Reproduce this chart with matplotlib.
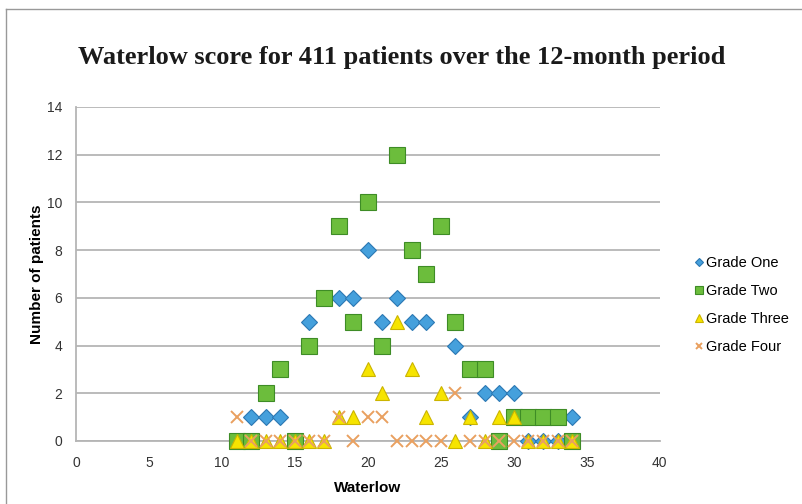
import matplotlib
matplotlib.use("Agg")
import matplotlib.pyplot as plt
from matplotlib.lines import Line2D

# Waterlow score counts per pressure ulcer grade
g1_x = [12, 13, 14, 16, 18, 19, 20, 21, 22, 23, 24, 26, 27, 28, 29, 30, 31, 32, 33, 34]
g1_y = [1, 1, 1, 5, 6, 6, 8, 5, 6, 5, 5, 4, 1, 2, 2, 2, 0, 0, 0, 1]

g2_x = [11, 12, 13, 14, 15, 16, 17, 18, 19, 20, 21, 22, 23, 24, 25, 26, 27, 28, 29, 30, 31, 32, 33, 34]
g2_y = [0, 0, 2, 3, 0, 4, 6, 9, 5, 10, 4, 12, 8, 7, 9, 5, 3, 3, 0, 1, 1, 1, 1, 0]

g3_x = [11, 12, 13, 14, 15, 16, 17, 18, 19, 20, 21, 22, 23, 24, 25, 26, 27, 28, 29, 30, 31, 32, 33, 34]
g3_y = [0, 0, 0, 0, 0, 0, 0, 1, 1, 3, 2, 5, 3, 1, 2, 0, 1, 0, 1, 1, 0, 0, 0, 0]

g4_x = [11, 12, 13, 14, 15, 16, 17, 18, 19, 20, 21, 22, 23, 24, 25, 26, 27, 28, 29, 30, 31, 32, 33, 34]
g4_y = [1, 0, 0, 0, 0, 0, 0, 1, 0, 1, 1, 0, 0, 0, 0, 2, 0, 0, 0, 0, 0, 0, 0, 0]

labels = ["Grade One", "Grade Two", "Grade Three", "Grade Four"]
x_ticks = [0, 5, 10, 15, 20, 25, 30, 35, 40]
y_ticks = [0, 2, 4, 6, 8, 10, 12, 14]

plt.rcParams["font.family"] = ["Liberation Sans", "DejaVu Sans"]

fig = plt.figure(figsize=(8.03, 5.04), dpi=100)
ax = fig.add_axes([0.0946, 0.125, 0.727, 0.663])

ax.plot(g1_x, g1_y, "D", ms=8, mfc="#45a0dc", mec="#2b78b3", mew=0.8,
        clip_on=False, label=labels[0], zorder=3)
ax.plot(g2_x, g2_y, "s", ms=11, mfc="#6cbd3c", mec="#3e8c26", mew=0.8,
        clip_on=False, label=labels[1], zorder=4)
ax.plot(g3_x, g3_y, "^", ms=10, mfc="#f6e400", mec="#cbb400", mew=0.8,
        clip_on=False, label=labels[2], zorder=5)
ax.plot(g4_x, g4_y, "x", ms=9, mec="#e9a060", mew=1.4,
        clip_on=False, label=labels[3], zorder=6)

ax.set_xlim(0, 40)
ax.set_ylim(0, 14)
ax.set_xticks(x_ticks)
ax.set_yticks(y_ticks)
ax.tick_params(axis="x", length=0, labelsize=10, labelcolor="#333333", pad=11)
ax.tick_params(axis="y", length=0, labelsize=10, labelcolor="#333333", pad=10)
ax.grid(axis="y", color="#b5b5b5", lw=1.3)
ax.set_axisbelow(True)
for s in ["top", "right"]:
    ax.spines[s].set_visible(False)
for s in ["left", "bottom"]:
    ax.spines[s].set_color("#b5b5b5")
    ax.spines[s].set_linewidth(1.3)

ax.set_xlabel("Waterlow", fontsize=11, fontweight="bold", labelpad=8)
ax.set_ylabel("Number of patients", fontsize=11, fontweight="bold", labelpad=2)

leg = ax.legend(loc="upper left", bbox_to_anchor=(1.05, 0.57), frameon=False,
                fontsize=10.5, handlelength=0.6, handletextpad=0.15,
                labelspacing=0.95, borderaxespad=0, markerscale=0.55)

fig.text(0.5, 0.873, "Waterlow score for 411 patients over the 12-month period",
         ha="center", fontsize=19, fontweight="bold", family="Liberation Serif",
         color="#1a1a1a")

# outer frame of the figure panel
fig.add_artist(Line2D([6 / 803, 6 / 803], [0, 1 - 9 / 504], color="#999999", lw=1))
fig.add_artist(Line2D([6 / 803, 1], [1 - 9 / 504, 1 - 9 / 504], color="#999999", lw=1))

fig.savefig("out.png", dpi=100)
